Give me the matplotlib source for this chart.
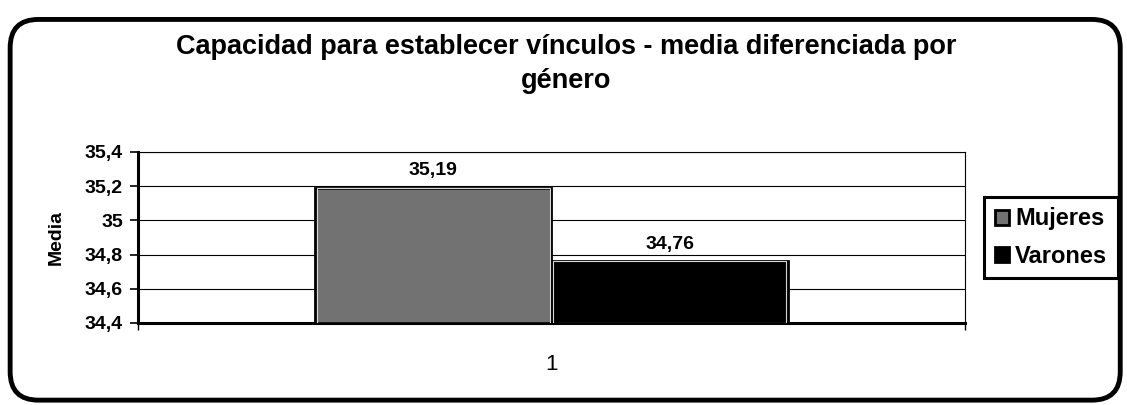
import matplotlib
matplotlib.use("Agg")
import matplotlib.pyplot as plt
from matplotlib.patches import FancyBboxPatch
from matplotlib.ticker import FuncFormatter

plt.rcParams["font.family"] = ["Liberation Sans", "DejaVu Sans"]

# data
category = "1"
series = ["Mujeres", "Varones"]
values = [35.19, 34.76]
colors = ["#727272", "#000000"]
y_ticks = [34.4, 34.6, 34.8, 35.0, 35.2, 35.4]

fig = plt.figure(figsize=(11.27, 4.05), dpi=100)
ax = fig.add_axes([0.1225, 0.2025, 0.7335, 0.4225])

# outer rounded frame
frame = FancyBboxPatch((0.009, 0.012), 0.985, 0.94,
                       boxstyle="round,pad=0,rounding_size=0.025",
                       transform=fig.transFigure, fill=False,
                       edgecolor="black", linewidth=3.5, mutation_aspect=2.8)
fig.patches.append(frame)

width = 0.286
offsets = [-width / 2, width / 2]
for name, val, col, off in zip(series, values, colors, offsets):
    ax.bar(off, val - y_ticks[0], bottom=y_ticks[0], width=width, color=col,
           edgecolor="black", linewidth=2, label=name, zorder=3)
    # thin light inner outline like the original
    ax.bar(off, val - y_ticks[0], bottom=y_ticks[0], width=width * 0.985,
           fill=False, edgecolor="#d8d8d8", linewidth=0.8, zorder=4)
    ax.text(off, val + 0.05, f"{val:.2f}".replace(".", ","), ha="center",
            va="bottom", fontsize=14, fontweight="bold")

ax.set_xlim(-0.5, 0.5)
ax.set_ylim(y_ticks[0], y_ticks[-1])
ax.set_yticks(y_ticks)
ax.yaxis.set_major_formatter(FuncFormatter(lambda v, p: f"{v:g}".replace(".", ",")))
ax.tick_params(axis="y", labelsize=14, length=6, width=1.2, pad=5)
for t in ax.get_yticklabels():
    t.set_fontweight("bold")
ax.set_xticks([-0.5, 0.5])
ax.set_xticklabels(["", ""])
ax.tick_params(axis="x", length=5, width=1)
ax.text(0.5, -0.24, category, transform=ax.transAxes, ha="center", va="center", fontsize=16)
ax.grid(axis="y", color="black", linewidth=0.8, zorder=0)
ax.set_ylabel("Media", fontsize=14, fontweight="bold", labelpad=14)
for s in ["left", "bottom"]:
    ax.spines[s].set_linewidth(2.2)
for s in ["top", "right"]:
    ax.spines[s].set_linewidth(0.8)

leg = ax.legend(loc="center", bbox_to_anchor=(0.9326, 0.4136),
                bbox_transform=fig.transFigure, fancybox=False, framealpha=1,
                edgecolor="black", prop={"size": 17, "weight": "bold"},
                handlelength=0.6, handleheight=0.6, handletextpad=0.25,
                borderpad=0.45, labelspacing=0.6, borderaxespad=0)
leg.get_frame().set_linewidth(2.2)

fig.text(0.502, 0.884, "Capacidad para establecer vínculos - media diferenciada por",
         ha="center", va="center", fontsize=19.5, fontweight="bold")
fig.text(0.502, 0.80, "género", ha="center", va="center", fontsize=19.5, fontweight="bold")

fig.savefig("out.png", dpi=100)
